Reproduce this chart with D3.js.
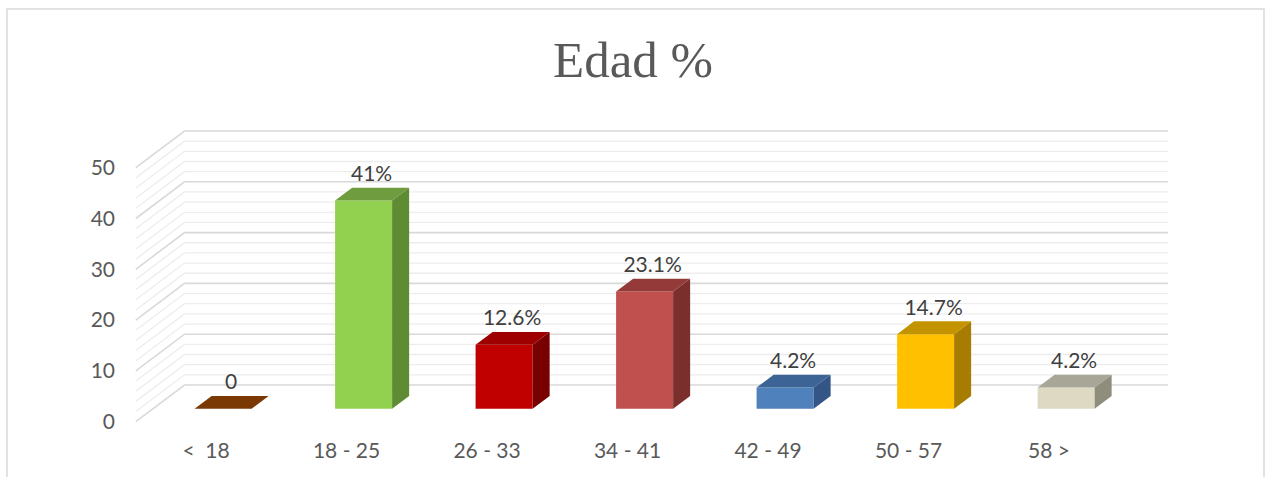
<!DOCTYPE html>
<html>
<head>
<meta charset="utf-8">
<script src="https://cdn.jsdelivr.net/npm/d3@7"></script>
<style>
  body { margin: 0; background: #fff; }
  text { font-family: Lato, "Open Sans", sans-serif; white-space: pre; }
</style>
</head>
<body>
<div id="chart"></div>
<script>
var categories = ["<  18", "18 - 25", "26 - 33", "34 - 41", "42 - 49", "50 - 57", "58 >"];
var values = [0, 41, 12.6, 23.1, 4.2, 14.7, 4.2];
var valueLabels = ["0", "41%", "12.6%", "23.1%", "4.2%", "14.7%", "4.2%"];
var yTicks = [0, 10, 20, 30, 40, 50];
var frontColors = ["#7F3F00", "#92D050", "#C00000", "#C0504D", "#4F81BD", "#FFC000", "#DDD9C3"];
var topColors = ["#7A3803", "#6F9C3E", "#9E0000", "#943B39", "#3C6595", "#C49300", "#A8A696"];
var sideColors = ["#5F2F00", "#5E8B33", "#780000", "#7B2F2D", "#335686", "#A67D00", "#8F8D7C"];

var width = 1266, height = 477;

// back wall
var wall = {left: 184.5, right: 1168, top: 131, bottom: 385};
// full depth offset (back -> front)
var depth = {dx: -48.7, dy: 36.7};
var barZ0 = 0.3, barZ1 = 0.65;
var barWidth = 57;

var x = d3.scaleBand().domain(d3.range(categories.length)).range([wall.left, wall.right]);
var y = d3.scaleLinear().domain([0, 50]).range([wall.bottom, wall.top]);

function proj(px, py, z) {
	return [px + depth.dx * z, py + depth.dy * z];
}

var svg = d3.select("#chart")
	.append("svg")
	.attr("width", width)
	.attr("height", height);

svg.append("rect")
	.attr("x", 7).attr("y", 9)
	.attr("width", 1257).attr("height", 480)
	.attr("fill", "#fff")
	.attr("stroke", "#d9d9d9")
	.attr("stroke-width", 1.5);

svg.append("text")
	.attr("x", 633).attr("y", 77)
	.attr("text-anchor", "middle")
	.style("font-family", "'Liberation Serif', 'Times New Roman', serif")
	.style("font-size", "51px")
	.attr("fill", "#595959")
	.text("Edad %");

// gridlines: majors every 10, minors every 2
var grid = svg.append("g");
d3.range(0, 50.01, 2).forEach(function(v) {
	var major = v % 10 === 0;
	var yy = y(v);
	var f = proj(wall.left, yy, 1);
	grid.append("path")
		.attr("d", "M" + f[0] + "," + f[1] + "L" + wall.left + "," + yy + "L" + wall.right + "," + yy)
		.attr("fill", "none")
		.attr("stroke", major ? "#d9d9d9" : "#ededed")
		.attr("stroke-width", major ? 1.6 : 1.3);
});

// y tick labels, at the front edge
yTicks.forEach(function(v) {
	var f = proj(wall.left, y(v), 1);
	svg.append("text")
		.attr("x", 115)
		.attr("y", f[1])
		.attr("dy", "0.35em")
		.attr("text-anchor", "end")
		.attr("fill", "#595959")
		.style("font-size", "21px")
		.text(v);
});

// category labels
categories.forEach(function(c, i) {
	var cx = x(i) + x.bandwidth() / 2;
	var f = proj(cx, y(0), 1);
	svg.append("text")
		.attr("x", f[0])
		.attr("y", f[1] + 29)
		.attr("dy", "0.35em")
		.attr("text-anchor", "middle")
		.attr("fill", "#595959")
		.style("font-size", "21px")
		.text(c);
});

// bars
function poly(pts) {
	return "M" + pts.map(function(p) { return p[0] + "," + p[1]; }).join("L") + "Z";
}

values.forEach(function(v, i) {
	var cx = x(i) + x.bandwidth() / 2;
	var l = cx - barWidth / 2, r = cx + barWidth / 2;
	var yb = y(0), yt = y(v);
	var g = svg.append("g");

	if (v > 0) {
		g.append("path")
			.attr("d", poly([proj(l, yt, barZ1), proj(r, yt, barZ1), proj(r, yb, barZ1), proj(l, yb, barZ1)]))
			.attr("fill", frontColors[i]);
		g.append("path")
			.attr("d", poly([proj(r, yt, barZ1), proj(r, yt, barZ0), proj(r, yb, barZ0), proj(r, yb, barZ1)]))
			.attr("fill", sideColors[i]);
	}
	g.append("path")
		.attr("d", poly([proj(l, yt, barZ1), proj(l, yt, barZ0), proj(r, yt, barZ0), proj(r, yt, barZ1)]))
		.attr("fill", topColors[i]);

	var lp = proj(cx, yt, barZ1);
	svg.append("text")
		.attr("x", lp[0] + 8)
		.attr("y", proj(cx, yt, barZ0)[1] - 14)
		.attr("dy", "0.35em")
		.attr("text-anchor", "middle")
		.attr("fill", "#404040")
		.style("font-size", "21px")
		.text(valueLabels[i]);
});
</script>
</body>
</html>
